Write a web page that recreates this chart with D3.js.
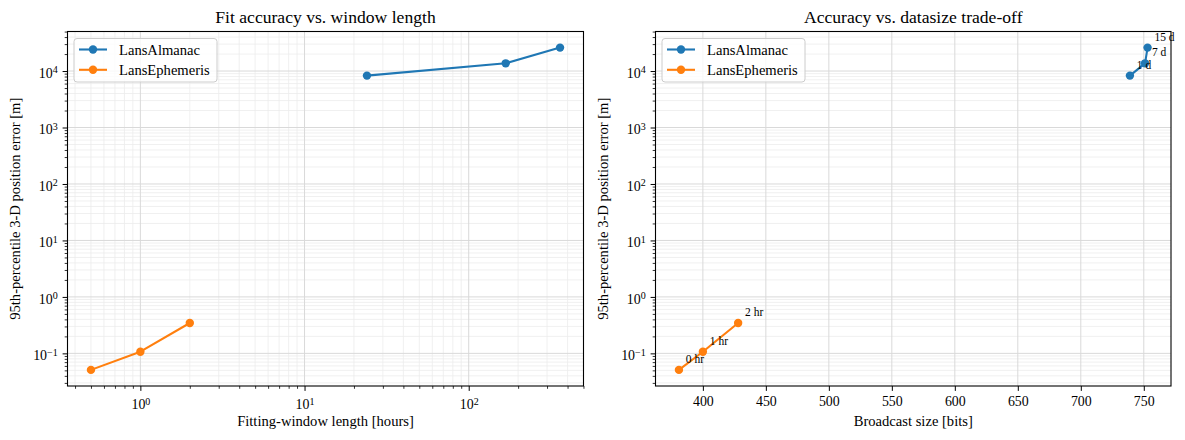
<!DOCTYPE html>
<html>
<head>
<meta charset="utf-8">
<script src="https://cdn.jsdelivr.net/npm/d3@7"></script>
<style>
  body { margin: 0; background: #fff; }
  svg text { font-family: "Liberation Serif", "Times New Roman", serif; fill: #000; }
</style>
</head>
<body>
<svg id="fig" width="1185" height="440"></svg>
<script>
// values
const almanacLabels = ["1 d", "7 d", "15 d"];
const almanacHours = [24, 168, 360];
const almanacBits = [739, 751, 753];
const almanacError = [8300, 13700, 26000];

const ephemerisLabels = ["0 hr", "1 hr", "2 hr"];
const ephemerisHours = [0.5, 1, 2];
const ephemerisBits = [381, 400, 428];
const ephemerisError = [0.051, 0.107, 0.345];

const errorTicks = [0.1, 1, 10, 100, 1000, 10000];
const hourTicks = [1, 10, 100];
const bitTicks = [400, 450, 500, 550, 600, 650, 700, 750];

const seriesNames = ["LansAlmanac", "LansEphemeris"];
const colors = ["#1f77b4", "#ff7f0e"];

const svg = d3.select("#fig");
svg.append("rect").attr("width", 1185).attr("height", 440).attr("fill", "#fff");

const plotTop = 31.5, plotBottom = 386;
const majorLen = 4.9, minorLen = 2.8, pad = 4.9;

// matplotlib style 5% margins (in log space for log scales)
function padLog(vals) {
  let lo = Math.log10(d3.min(vals)), hi = Math.log10(d3.max(vals));
  let m = (hi - lo) * 0.05;
  return [Math.pow(10, lo - m), Math.pow(10, hi + m)];
}
function padLin(vals) {
  let lo = d3.min(vals), hi = d3.max(vals);
  let m = (hi - lo) * 0.05;
  return [lo - m, hi + m];
}

function powLabel(sel, dy) {
  sel.each(function (d) {
    let t = d3.select(this);
    let e = Math.round(Math.log10(d));
    t.text("").attr("dy", dy);
    t.append("tspan").text("10");
    t.append("tspan").attr("dy", "-0.45em").attr("font-size", "72%")
      .text(e < 0 ? "\u2212" + (-e) : e);
  });
}

function minorOf(scale, majors) {
  return scale.ticks().filter(v => !majors.some(m => Math.abs(m - v) / m < 1e-9));
}

function panel(opt) {
  const x = opt.x, y = opt.y;
  const x0 = opt.x0, x1 = opt.x1;
  const g = svg.append("g");

  const yMinor = minorOf(y, errorTicks);
  const xMinor = opt.xlog ? minorOf(x, opt.xticks) : [];

  // grid
  g.append("g").selectAll("line").data(yMinor).join("line")
    .attr("x1", x0).attr("x2", x1).attr("y1", d => y(d)).attr("y2", d => y(d))
    .attr("stroke", "#ececec").attr("stroke-width", 0.8);
  g.append("g").selectAll("line").data(xMinor).join("line")
    .attr("y1", plotTop).attr("y2", plotBottom).attr("x1", d => x(d)).attr("x2", d => x(d))
    .attr("stroke", "#ececec").attr("stroke-width", 0.8);
  g.append("g").selectAll("line").data(errorTicks).join("line")
    .attr("x1", x0).attr("x2", x1).attr("y1", d => y(d)).attr("y2", d => y(d))
    .attr("stroke", "#d9d9d9").attr("stroke-width", 1);
  g.append("g").selectAll("line").data(opt.xticks).join("line")
    .attr("y1", plotTop).attr("y2", plotBottom).attr("x1", d => x(d)).attr("x2", d => x(d))
    .attr("stroke", "#d9d9d9").attr("stroke-width", 1);

  // series
  opt.series.forEach((s, i) => {
    const pts = s.xs.map((v, k) => [x(v), y(s.ys[k])]);
    g.append("path").attr("d", d3.line()(pts))
      .attr("fill", "none").attr("stroke", colors[i]).attr("stroke-width", 2.1)
      .attr("stroke-linejoin", "round").attr("stroke-linecap", "round");
    g.append("g").selectAll("circle").data(pts).join("circle")
      .attr("cx", d => d[0]).attr("cy", d => d[1]).attr("r", 4.2)
      .attr("fill", colors[i]);
    if (s.labels) {
      g.append("g").selectAll("text").data(pts).join("text")
        .attr("x", d => d[0] + 6.9).attr("y", d => d[1] - 6.9)
        .attr("font-size", 11.5).text((d, k) => s.labels[k]);
    }
  });

  // axes
  const ax = g.append("g").attr("transform", `translate(0,${plotBottom})`)
    .call(d3.axisBottom(x).tickValues(opt.xticks).tickSize(majorLen).tickPadding(pad)
      .tickFormat(opt.xlog ? null : d3.format("d")));
  ax.select(".domain").remove();
  ax.selectAll("text").attr("font-size", 13.9).attr("font-family", null);
  if (opt.xlog) powLabel(ax.selectAll("text"), "0.95em");
  if (xMinor.length) {
    const axm = g.append("g").attr("transform", `translate(0,${plotBottom})`)
      .call(d3.axisBottom(x).tickValues(xMinor).tickSize(minorLen).tickFormat(""));
    axm.select(".domain").remove();
    axm.selectAll("line").attr("stroke-width", 0.8);
  }
  const ay = g.append("g").attr("transform", `translate(${x0},0)`)
    .call(d3.axisLeft(y).tickValues(errorTicks).tickSize(majorLen).tickPadding(pad));
  ay.select(".domain").remove();
  ay.selectAll("text").attr("font-size", 13.9).attr("font-family", null);
  powLabel(ay.selectAll("text"), "0.45em");
  const aym = g.append("g").attr("transform", `translate(${x0},0)`)
    .call(d3.axisLeft(y).tickValues(yMinor).tickSize(minorLen).tickFormat(""));
  aym.select(".domain").remove();
  aym.selectAll("line").attr("stroke-width", 0.8);
  g.selectAll(".tick line").attr("stroke", "#000");

  // frame
  g.append("rect").attr("x", x0).attr("y", plotTop).attr("width", x1 - x0).attr("height", plotBottom - plotTop)
    .attr("fill", "none").attr("stroke", "#000").attr("stroke-width", 1.1);

  // title and labels
  g.append("text").attr("x", (x0 + x1) / 2).attr("y", 23).attr("text-anchor", "middle")
    .attr("font-size", 17.6).text(opt.title);
  g.append("text").attr("x", (x0 + x1) / 2).attr("y", 426).attr("text-anchor", "middle")
    .attr("font-size", 14.6).text(opt.xlabel);
  g.append("text").attr("transform", `translate(${x0 - 48},${(plotTop + plotBottom) / 2}) rotate(-90)`)
    .attr("text-anchor", "middle").attr("font-size", 14.6)
    .text("95th-percentile 3-D position error [m]");

  // legend
  const lx = x0 + 6.5, ly = plotTop + 7;
  const lg = g.append("g");
  lg.append("rect").attr("x", lx).attr("y", ly).attr("width", 143).attr("height", 43.5)
    .attr("rx", 3).attr("fill", "#fff").attr("fill-opacity", 0.8)
    .attr("stroke", "#cccccc").attr("stroke-width", 1);
  seriesNames.forEach((name, i) => {
    const cy = ly + 11 + i * 20.3;
    lg.append("line").attr("x1", lx + 5).attr("x2", lx + 33).attr("y1", cy).attr("y2", cy)
      .attr("stroke", colors[i]).attr("stroke-width", 2.1);
    lg.append("circle").attr("cx", lx + 19).attr("cy", cy).attr("r", 4.2).attr("fill", colors[i]);
    lg.append("text").attr("x", lx + 45).attr("y", cy + 5).attr("font-size", 14.6).text(name);
  });
}

const yDomain = padLog(almanacError.concat(ephemerisError));

panel({
  x0: 67.5, x1: 583.5, xlog: true,
  x: d3.scaleLog().domain(padLog(almanacHours.concat(ephemerisHours))).range([67.5, 583.5]),
  y: d3.scaleLog().domain(yDomain).range([plotBottom, plotTop]),
  xticks: hourTicks,
  title: "Fit accuracy vs. window length",
  xlabel: "Fitting-window length [hours]",
  series: [
    { xs: almanacHours, ys: almanacError },
    { xs: ephemerisHours, ys: ephemerisError }
  ]
});

panel({
  x0: 655.5, x1: 1171, xlog: false,
  x: d3.scaleLinear().domain(padLin(almanacBits.concat(ephemerisBits))).range([655.5, 1171]),
  y: d3.scaleLog().domain(yDomain).range([plotBottom, plotTop]),
  xticks: bitTicks,
  title: "Accuracy vs. datasize trade-off",
  xlabel: "Broadcast size [bits]",
  series: [
    { xs: almanacBits, ys: almanacError, labels: almanacLabels },
    { xs: ephemerisBits, ys: ephemerisError, labels: ephemerisLabels }
  ]
});
</script>
</body>
</html>
